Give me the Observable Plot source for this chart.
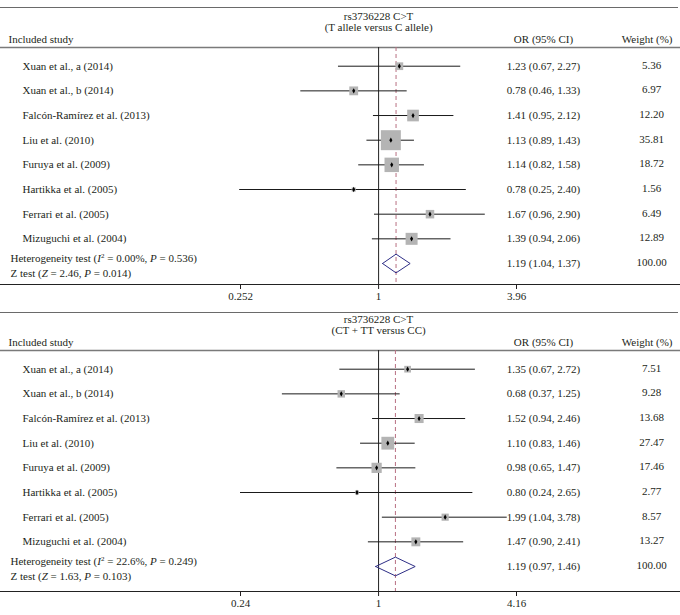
<!DOCTYPE html>
<html><head><meta charset="utf-8">
<script src="https://cdn.jsdelivr.net/npm/d3@7"></script>
<script src="https://cdn.jsdelivr.net/npm/@observablehq/plot@0.6"></script>
<style>
body{margin:0;background:#fff;}
#wrap{position:relative;width:680px;height:615px;font-family:"Liberation Serif",serif;color:#231f20;overflow:hidden;}
.hr{position:absolute;left:0;width:678px;height:0;border-top:1.5px solid #6a6a6a;}
.panel{position:absolute;left:0;}
</style></head><body>
<div id="wrap">
  <div class="hr" style="top:7px"></div>
  <div class="hr" style="top:312px"></div>
  <div class="panel" id="p1" style="top:0px"></div>
  <div class="panel" id="p2" style="top:303px"></div>
</div>
<script>
// ---- data ----
const studies = ["Xuan et al., a (2014)", "Xuan et al., b (2014)", "Falcón-Ramírez et al. (2013)", "Liu et al. (2010)", "Furuya et al. (2009)", "Hartikka et al. (2005)", "Ferrari et al. (2005)", "Mizuguchi et al. (2004)"];

const titles1 = ["rs3736228 C>T", "(T allele versus C allele)"];
const or1 = [1.23, 0.78, 1.41, 1.13, 1.14, 0.78, 1.67, 1.39];
const lo1 = [0.67, 0.46, 0.95, 0.89, 0.82, 0.25, 0.96, 0.94];
const hi1 = [2.27, 1.33, 2.12, 1.43, 1.58, 2.40, 2.90, 2.06];
const w1  = [5.36, 6.97, 12.20, 35.81, 18.72, 1.56, 6.49, 12.89];
const pooled1 = [1.19, 1.04, 1.37, 100.00];
const stats1 = ["0.00%", "0.536", "2.46", "0.014"]; // I2, P(het), Z, P(Z)
const ticks1 = [0.252, 1, 3.96];
const tickLabels1 = ["0.252", "1", "3.96"];

const titles2 = ["rs3736228 C>T", "(CT + TT versus CC)"];
const or2 = [1.35, 0.68, 1.52, 1.10, 0.98, 0.80, 1.99, 1.47];
const lo2 = [0.67, 0.37, 0.94, 0.83, 0.65, 0.24, 1.04, 0.90];
const hi2 = [2.72, 1.25, 2.46, 1.46, 1.47, 2.65, 3.78, 2.41];
const w2  = [7.51, 9.28, 13.68, 27.47, 17.46, 2.77, 8.57, 13.27];
const pooled2 = [1.19, 0.97, 1.46, 100.00];
const stats2 = ["22.6%", "0.249", "1.63", "0.103"];
const ticks2 = [0.24, 1, 4.16];
const tickLabels2 = ["0.24", "1", "4.16"];

// ---- drawing ----
const FONT = '"Liberation Serif", "Times New Roman", serif';
const INK = "#231f20";
const fmt = d3.format(".2f");

function panel(cfg) {
  const n = studies.length;
  const rows = studies.map((s, i) => ({i, name: s, or: cfg.or[i], lo: cfg.lo[i], hi: cfg.hi[i], w: cfg.w[i]}));
  const pooled = {i: n, or: cfg.pooled[0], lo: cfg.pooled[1], hi: cfg.pooled[2], w: cfg.pooled[3]};
  const all = [...rows, pooled];
  const hh = 0.38;
  const diamond = [
    {x: pooled.lo, y: n}, {x: pooled.or, y: n - hh}, {x: pooled.hi, y: n},
    {x: pooled.or, y: n + hh}, {x: pooled.lo, y: n}
  ];
  const ciText = d => `${fmt(d.or)} (${fmt(d.lo)}, ${fmt(d.hi)})`;
  const tickMap = new Map(cfg.ticks.map((t, k) => [t, cfg.tickLabels[k]]));
  const hetStr = `Heterogeneity test (I2 = ${cfg.stats[0]}, P = ${cfg.stats[1]})`;
  const zStr = `Z test (Z = ${cfg.stats[2]}, P = ${cfg.stats[3]})`;
  const txt = {fontSize: 11, fill: INK, fontFamily: FONT, lineAnchor: "middle"};

  const svg = Plot.plot({
    width: 680,
    height: cfg.height,
    marginLeft: 0, marginRight: 0, marginTop: 47, marginBottom: cfg.height - cfg.axisY,
    style: {fontFamily: FONT, fontSize: "11px", color: INK, background: "transparent", overflow: "visible"},
    x: {type: "log", domain: cfg.domain, range: [240, 516]},
    y: {type: "linear", domain: [0, n], range: [65.7, 263], axis: null},
    r: {type: "sqrt", domain: [0, 100], range: [0, cfg.rMax]},
    marks: [
      Plot.frame({anchor: "top", stroke: "#7a7a7a", strokeWidth: 1.5}),
      Plot.frame({anchor: "bottom", stroke: "#222", strokeWidth: 1}),
      Plot.ruleX([1], {stroke: "#222", strokeWidth: 1}),
      Plot.ruleX([pooled.or], {stroke: "#b87082", strokeWidth: 1, strokeDasharray: "4,3"}),
      Plot.ruleY(rows, {y: "i", x1: "lo", x2: "hi", stroke: "#1a1a1a", strokeWidth: 1}),
      Plot.dot(rows, {x: "or", y: "i", r: "w", symbol: "square", fill: "#b4b4b4", stroke: null}),
      Plot.dot(rows, {x: "or", y: "i", r: 1.6, symbol: "diamond", fill: "#000", stroke: null}),
      Plot.line(diamond, {x: "x", y: "y", stroke: "#2e2e86", strokeWidth: 1, curve: "linear"}),
      Plot.axisX({ticks: cfg.ticks, tickFormat: d => tickMap.get(d), tickSize: 5, tickPadding: 3, label: null, fontSize: 11, fontFamily: FONT}),
      // titles & headers
      Plot.text([cfg.titles[0]], {x: () => 1, text: d => d, frameAnchor: "top", dy: -31, ...txt}),
      Plot.text([cfg.titles[1]], {x: () => 1, text: d => d, frameAnchor: "top", dy: -20, ...txt}),
      Plot.text(["Included study"], {text: d => d, frameAnchor: "top-left", dx: 8, dy: -8, textAnchor: "start", ...txt}),
      Plot.text(["OR (95% CI)"], {text: d => d, frameAnchor: "top-left", dx: 543, dy: -8, textAnchor: "middle", ...txt}),
      Plot.text(["Weight (%)"], {text: d => d, frameAnchor: "top-right", dx: -8, dy: -8, textAnchor: "end", ...txt}),
      // table columns
      Plot.text(rows, {y: "i", text: "name", frameAnchor: "left", dx: 22, textAnchor: "start", ...txt}),
      Plot.text(all, {y: "i", text: ciText, frameAnchor: "left", dx: 543, textAnchor: "middle", ...txt}),
      Plot.text(all, {y: "i", text: d => fmt(d.w), frameAnchor: "left", dx: 651, dy: -1, textAnchor: "middle", ...txt}),
      Plot.text([hetStr], {y: () => n, text: d => d, frameAnchor: "left", dx: 10, dy: -5, textAnchor: "start", ...txt}),
      Plot.text([zStr], {y: () => n, text: d => d, frameAnchor: "left", dx: 10, dy: 10, textAnchor: "start", ...txt})
    ]
  });

  // rich text: italic I, P, Z and superscript 2
  d3.select(svg).selectAll("text").each(function() {
    const el = d3.select(this);
    const s = el.text();
    let parts = null;
    if (s === hetStr) {
      parts = [["Heterogeneity test ("], ["I", "i"], ["2", "sup"], [` = ${cfg.stats[0]}, `, "n"], ["P", "i"], [` = ${cfg.stats[1]})`]];
    } else if (s === zStr) {
      parts = [["Z test ("], ["Z", "i"], [` = ${cfg.stats[2]}, `], ["P", "i"], [` = ${cfg.stats[3]})`]];
    }
    if (!parts) return;
    el.text(null);
    parts.forEach(([t, kind]) => {
      const ts = el.append("tspan").text(t);
      if (kind === "i") ts.attr("font-style", "italic");
      if (kind === "sup") ts.attr("font-size", 7).attr("dy", -4);
      if (kind === "n") ts.attr("dy", 4);
    });
  });
  return svg;
}

document.getElementById("p1").appendChild(panel({
  titles: titles1, or: or1, lo: lo1, hi: hi1, w: w1, pooled: pooled1, stats: stats1,
  ticks: ticks1, tickLabels: tickLabels1, domain: [0.252, 3.96],
  height: 308, axisY: 284, rMax: 18.85
}));
document.getElementById("p2").appendChild(panel({
  titles: titles2, or: or2, lo: lo2, hi: hi2, w: w2, pooled: pooled2, stats: stats2,
  ticks: ticks2, tickLabels: tickLabels2, domain: [0.24, 4.16],
  height: 312, axisY: 288, rMax: 13.8
}));
</script>
</body></html>
